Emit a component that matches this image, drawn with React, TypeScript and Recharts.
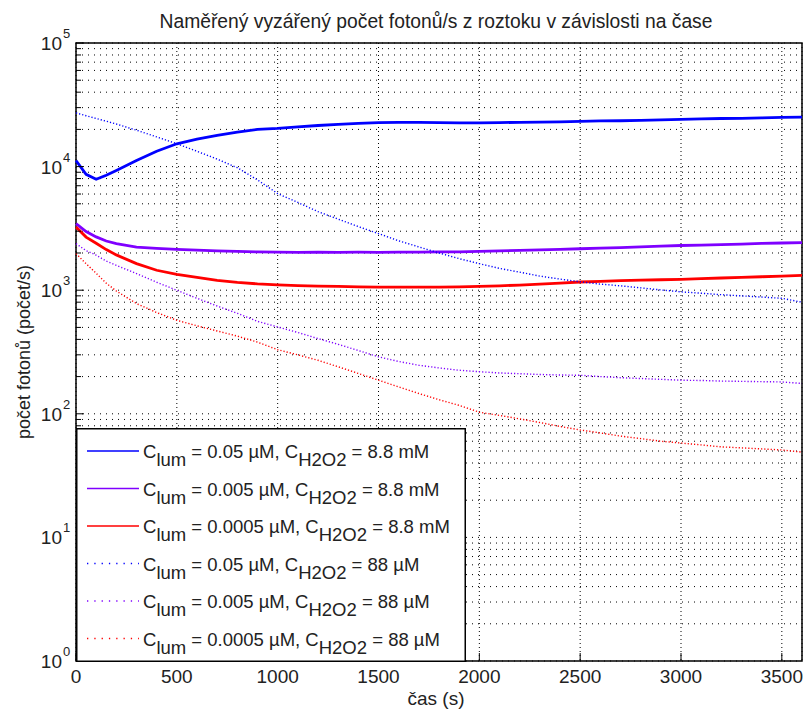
import { LineChart, Line, XAxis, YAxis, CartesianGrid, Legend, ReferenceArea } from "recharts";

const BLUE = "#0000FF";
const PURPLE = "#7F00FF";
const RED = "#FF0000";
const FONT = "'Liberation Sans', Arial, Helvetica, sans-serif";

// time axis (s)
const TIMES = [0, 50, 100, 150, 200, 300, 400, 500, 600, 700, 800, 900, 1000, 1100, 1200, 1300, 1400, 1500, 1600, 1700, 1800, 1900, 2000, 2100, 2200, 2300, 2400, 2500, 2600, 2700, 2800, 2900, 3000, 3100, 3200, 3300, 3400, 3500, 3600];

// photons/s
const lum005_88mM = [11200, 8650, 7900, 8500, 9300, 11200, 13300, 15300, 16700, 17900, 19000, 20000, 20400, 21000, 21500, 22000, 22400, 22700, 22800, 22800, 22700, 22600, 22600, 22700, 22800, 22900, 23000, 23200, 23400, 23500, 23700, 23900, 24100, 24300, 24500, 24600, 24800, 25000, 25100];
const lum0005_88mM = [3450, 2980, 2700, 2500, 2380, 2235, 2180, 2140, 2110, 2080, 2060, 2040, 2030, 2020, 2030, 2020, 2030, 2025, 2030, 2035, 2040, 2045, 2060, 2080, 2100, 2120, 2140, 2165, 2190, 2210, 2240, 2270, 2300, 2320, 2340, 2360, 2390, 2410, 2425];
const lum00005_88mM = [3240, 2690, 2400, 2130, 1930, 1640, 1450, 1345, 1270, 1200, 1155, 1125, 1105, 1090, 1080, 1075, 1065, 1060, 1058, 1060, 1060, 1065, 1075, 1085, 1100, 1120, 1140, 1165, 1180, 1195, 1205, 1215, 1225, 1240, 1255, 1270, 1285, 1300, 1320];
const lum005_88uM = [27200, 25800, 24500, 23300, 22100, 19700, 17400, 15300, 13300, 11500, 9800, 7800, 6050, 5130, 4320, 3760, 3270, 2870, 2510, 2240, 2000, 1800, 1640, 1500, 1400, 1300, 1230, 1170, 1120, 1085, 1045, 1005, 970, 945, 920, 900, 880, 860, 800];
const lum0005_88uM = [2380, 2090, 1920, 1720, 1590, 1362, 1160, 998, 860, 745, 650, 560, 504, 455, 406, 365, 325, 289, 265, 247, 235, 225, 219, 214, 211, 208, 206, 205, 200, 196, 193, 190, 187, 186, 184, 183, 182, 181, 176];
const lum00005_88uM = [1977, 1640, 1370, 1140, 985, 780, 660, 571, 515, 468, 425, 380, 330, 300, 271, 240, 212, 187, 165, 146, 130, 117, 103, 97, 91, 85, 79, 74, 70, 66, 63, 60, 58, 56, 54, 53, 52, 51, 49];

const X_TICKS = [0, 500, 1000, 1500, 2000, 2500, 3000, 3500];
const DECADES = [1, 10, 100, 1000, 10000];
const Y_TICKS = [...DECADES.flatMap((d) => [1, 2, 3, 4, 5, 6, 7, 8, 9].map((m) => m * d)), 100000];

const SERIES = [
  { key: "a", lum: "0.05", h2o2: "8.8 mM", color: BLUE, dotted: false, values: lum005_88mM },
  { key: "b", lum: "0.005", h2o2: "8.8 mM", color: PURPLE, dotted: false, values: lum0005_88mM },
  { key: "c", lum: "0.0005", h2o2: "8.8 mM", color: RED, dotted: false, values: lum00005_88mM },
  { key: "d", lum: "0.05", h2o2: "88 µM", color: BLUE, dotted: true, values: lum005_88uM },
  { key: "e", lum: "0.005", h2o2: "88 µM", color: PURPLE, dotted: true, values: lum0005_88uM },
  { key: "f", lum: "0.0005", h2o2: "88 µM", color: RED, dotted: true, values: lum00005_88uM },
];

const data = TIMES.map((t, i) => {
  const row: Record<string, number> = { t };
  SERIES.forEach((s) => { row[s.key] = s.values[i]; });
  return row;
});

function YTick(props: any) {
  const { x, y, payload } = props;
  const v = payload.value;
  const e = Math.round(Math.log10(v));
  const major = Math.abs(v - Math.pow(10, e)) < 1e-6;
  return (
    <g fontFamily={FONT}>
      <line x1={x} x2={x + (major ? 8 : 5)} y1={y} y2={y} stroke="#000" />
      {major && (
        <>
          <text x={x - 14} y={y + 7} textAnchor="end" fontSize={19} fill="#222">10</text>
          <text x={x - 13} y={y - 5} fontSize={13} fill="#222">{e}</text>
        </>
      )}
    </g>
  );
}

function XTick(props: any) {
  const { x, y, payload } = props;
  return (
    <g fontFamily={FONT}>
      <line x1={x} x2={x} y1={y} y2={y - 8} stroke="#000" />
      <text x={x} y={y + 22} textAnchor="middle" fontSize={19} fill="#222">{payload.value}</text>
    </g>
  );
}

function LegendBox() {
  return (
    <svg width={390} height={234} style={{ display: "block", fontFamily: FONT }}>
      <rect x={0.75} y={0.75} width={388.5} height={232.5} fill="#fff" stroke="#000" strokeWidth={1.5} />
      {SERIES.map((s, i) => {
        const cy = 23 + i * 37.5;
        return (
          <g key={s.key}>
            <line x1={11} x2={63} y1={cy} y2={cy} stroke={s.color} strokeWidth={s.dotted ? 1.3 : 1.5}
              strokeDasharray={s.dotted ? "1.3 6" : undefined} />
            <text x={67} y={cy + 7} fontSize={18.5} fill="#222">
              C<tspan dy={8}>lum</tspan><tspan dy={-8}>{` = ${s.lum} µM, C`}</tspan>
              <tspan dy={8}>H2O2</tspan><tspan dy={-8}>{` = ${s.h2o2}`}</tspan>
            </text>
          </g>
        );
      })}
    </svg>
  );
}

export default function App() {
  return (
    <div style={{ position: "absolute", left: 0, top: 0, width: 803, height: 711, background: "#fff" }}>
      <LineChart width={803} height={711} data={data} margin={{ top: 43, right: 1, bottom: 0, left: 0 }}>
        <CartesianGrid horizontal={false} stroke="#000" strokeDasharray="1 3" />
        <CartesianGrid vertical={false} stroke="#000" strokeDasharray="1 5" />
        <XAxis dataKey="t" type="number" domain={[0, 3600]} ticks={X_TICKS} height={50}
          tick={<XTick />} tickLine={false} tickSize={0} tickMargin={0} axisLine={false} />
        <YAxis type="number" scale="log" domain={[1, 100000]} allowDataOverflow ticks={Y_TICKS} width={76}
          tick={<YTick />} tickLine={false} tickSize={0} tickMargin={0} axisLine={false} interval={0} />
        {SERIES.map((s) => (
          <Line key={s.key} dataKey={s.key} type="linear" stroke={s.color} dot={false} isAnimationActive={false}
            strokeWidth={s.dotted ? 1.4 : 2.8} strokeDasharray={s.dotted ? "1.2 2" : undefined} />
        ))}
        <ReferenceArea x1={0} x2={3600} y1={1} y2={100000} fill="none" stroke="#000" strokeWidth={1.5} />
        <Legend layout="vertical" align="center" verticalAlign="middle" content={() => <LegendBox />}
          wrapperStyle={{ left: 76, top: 428, width: 390, height: 234 }} />
        <text x={436} y={28} textAnchor="middle" fontSize={19.3} fontFamily={FONT} fill="#222">
          Naměřený vyzářený počet fotonů/s z roztoku v závislosti na čase
        </text>
        <text x={30} y={352} textAnchor="middle" fontSize={18} fontFamily={FONT} fill="#222" transform="rotate(-90, 30, 352)">
          počet fotonů (počet/s)
        </text>
        <text x={436} y={705} textAnchor="middle" fontSize={19} fontFamily={FONT} fill="#222">čas (s)</text>
      </LineChart>
    </div>
  );
}
